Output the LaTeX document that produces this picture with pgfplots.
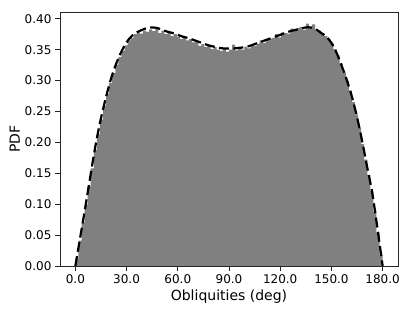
\documentclass[border=0pt]{standalone}
\usepackage{fontspec}
\setmainfont{DejaVu Sans}
\usepackage{pgfplots}
\pgfplotsset{compat=1.18}

% histogram: left bin edges (100 bins of 1.8 deg) and densities
\pgfplotstableread{
x h
0.0 0.012
1.8 0.041
3.6 0.070
5.4 0.099
7.2 0.129
9.0 0.158
10.8 0.188
12.6 0.213
14.4 0.237
16.2 0.259
18.0 0.279
19.8 0.296
21.6 0.312
23.4 0.326
25.2 0.338
27.0 0.348
28.8 0.357
30.6 0.365
32.4 0.369
34.2 0.375
36.0 0.378
37.8 0.376
39.6 0.381
41.4 0.379
43.2 0.383
45.0 0.380
46.8 0.384
48.6 0.377
50.4 0.381
52.2 0.375
54.0 0.378
55.8 0.372
57.6 0.375
59.4 0.371
61.2 0.367
63.0 0.370
64.8 0.365
66.6 0.367
68.4 0.362
70.2 0.363
72.0 0.356
73.8 0.359
75.6 0.354
77.4 0.357
79.2 0.351
81.0 0.354
82.8 0.350
84.6 0.348
86.4 0.351
88.2 0.347
90.0 0.350
91.8 0.358
93.6 0.349
95.4 0.352
97.2 0.350
99.0 0.355
100.8 0.352
102.6 0.357
104.4 0.356
106.2 0.360
108.0 0.365
109.8 0.361
111.6 0.367
113.4 0.368
115.2 0.369
117.0 0.375
118.8 0.370
120.6 0.378
122.4 0.377
124.2 0.376
126.0 0.384
127.8 0.380
129.6 0.385
131.4 0.387
133.2 0.382
135.0 0.392
136.8 0.385
138.6 0.391
140.4 0.383
142.2 0.381
144.0 0.377
145.8 0.372
147.6 0.368
149.4 0.361
151.2 0.351
153.0 0.341
154.8 0.328
156.6 0.313
158.4 0.299
160.2 0.283
162.0 0.265
163.8 0.245
165.6 0.223
167.4 0.197
169.2 0.172
171.0 0.147
172.8 0.121
174.6 0.088
176.4 0.054
178.2 0.018
180.0 0.018
}\histdata

% fitted density (dashed curve)
\pgfplotstableread{
x f
0 0.000
3 0.049
6 0.098
9 0.149
12 0.198
15 0.239
18 0.274
21 0.304
24 0.328
27 0.347
30 0.362
33 0.372
36 0.378
39 0.382
42 0.385
45 0.386
48 0.385
51 0.382
54 0.379
57 0.377
60 0.374
63 0.371
66 0.369
69 0.366
72 0.363
75 0.360
78 0.357
81 0.355
84 0.353
87 0.352
90 0.352
93 0.352
96 0.353
99 0.354
102 0.356
105 0.359
108 0.362
111 0.365
114 0.368
117 0.371
120 0.374
123 0.377
126 0.380
129 0.382
132 0.384
135 0.386
138 0.386
141 0.383
144 0.377
147 0.371
150 0.361
153 0.345
156 0.324
159 0.301
162 0.274
165 0.241
168 0.202
171 0.159
174 0.117
177 0.060
180 0.000
}\fitdata

\begin{document}
\begin{tikzpicture}
\begin{axis}[
    scale only axis,
    width=338pt, height=254pt,
    xmin=-9, xmax=189,
    ymin=0, ymax=0.411,
    xtick={0,30,...,180},
    ytick={0,0.05,...,0.41},
    xticklabel style={/pgf/number format/.cd, fixed, fixed zerofill, precision=1},
    yticklabel style={/pgf/number format/.cd, fixed, fixed zerofill, precision=2},
    /pgf/number format/assume math mode=true,
    scaled y ticks=false,
    ticklabel style={font=\fontsize{12}{14}\selectfont},
    label style={font=\fontsize{14}{16}\selectfont},
    xlabel={Obliquities (deg)},
    ylabel={PDF},
    xlabel style={yshift=1pt},
    ylabel style={yshift=-2pt},
    tick align=outside,
    xtick pos=bottom, ytick pos=left,
    major tick length=5pt,
    axis line style={black!85, line width=0.8pt},
    every tick/.style={black!85, line width=0.8pt},
    axis on top,
]
\addplot[const plot mark left, fill=gray, draw=none] table[x=x, y=h] {\histdata} \closedcycle;
\addplot[black, line width=2.2pt, dash pattern=on 10pt off 4.4pt, smooth] table[x=x, y=f] {\fitdata};
\end{axis}
\pgfresetboundingbox
\path ([shift={(-60pt,-45pt)}]current axis.south west) rectangle ([shift={(17pt,12pt)}]current axis.north east);
\end{tikzpicture}
\end{document}
